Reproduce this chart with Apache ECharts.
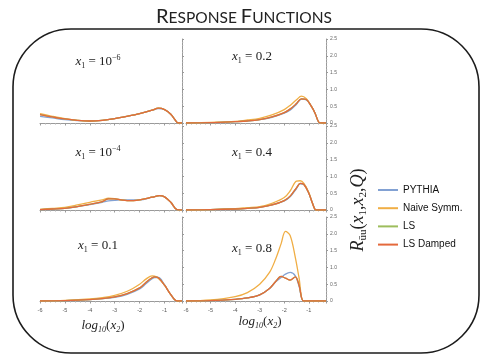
<!DOCTYPE html>
<html>
<head>
<meta charset="utf-8">
<script src="https://cdn.jsdelivr.net/npm/echarts@6/dist/echarts.min.js"></script>
<style>
html, body { margin: 0; padding: 0; background: #fff; }
#chart { width: 492px; height: 358px; }
</style>
</head>
<body>
<div id="chart"></div>
<script>
// Series names and colours
const seriesNames = ['PYTHIA', 'Naive Symm.', 'LS', 'LS Damped'];
const seriesColors = ['#82a1d3', '#f0ae45', '#9dbd5c', '#e4693c'];

// Axis ranges (log10(x2) horizontally, R vertically)
const xMin = -6, xMax = -0.3, xStep = 1;
const yMin = 0, yMax = 2.5, yStep = 0.5;

// Panel x1 = 10^-6
const x2_a     = [-6, -5.5, -5, -4.5, -4, -3.5, -3, -2.5, -2, -1.5, -1.25, -1, -0.75, -0.5, -0.45, -0.3];
const pythia_a = [0.20, 0.15, 0.10, 0.07, 0.06, 0.08, 0.13, 0.20, 0.28, 0.38, 0.43, 0.40, 0.26, 0.02, 0, 0];
const naive_a  = [0.28, 0.20, 0.13, 0.08, 0.06, 0.08, 0.13, 0.20, 0.28, 0.38, 0.44, 0.40, 0.26, 0.02, 0, 0];
const ls_a     = [0.25, 0.18, 0.12, 0.08, 0.06, 0.08, 0.13, 0.20, 0.28, 0.38, 0.44, 0.40, 0.26, 0.02, 0, 0];
const lsd_a    = [0.25, 0.18, 0.12, 0.08, 0.06, 0.08, 0.13, 0.20, 0.28, 0.38, 0.44, 0.40, 0.26, 0.02, 0, 0];

// Panel x1 = 0.2
const x2_b     = [-6, -5, -4, -3.5, -3, -2.5, -2, -1.75, -1.5, -1.3, -1.1, -0.9, -0.75, -0.6, -0.5, -0.3];
const pythia_b = [0, 0.01, 0.04, 0.06, 0.10, 0.17, 0.29, 0.39, 0.56, 0.71, 0.69, 0.50, 0.30, 0.03, 0, 0];
const naive_b  = [0, 0.02, 0.05, 0.09, 0.14, 0.24, 0.40, 0.53, 0.69, 0.80, 0.72, 0.50, 0.30, 0.03, 0, 0];
const ls_b     = [0, 0.01, 0.04, 0.06, 0.10, 0.18, 0.31, 0.42, 0.58, 0.72, 0.70, 0.50, 0.30, 0.03, 0, 0];
const lsd_b    = [0, 0.01, 0.04, 0.06, 0.10, 0.18, 0.31, 0.42, 0.58, 0.72, 0.70, 0.50, 0.30, 0.03, 0, 0];

// Panel x1 = 10^-4
const x2_c     = [-6, -5.5, -5, -4.5, -4, -3.5, -3.25, -3, -2.75, -2.5, -2.25, -2, -1.5, -1.2, -1, -0.75, -0.5, -0.3];
const pythia_c = [0.01, 0.03, 0.05, 0.10, 0.16, 0.23, 0.27, 0.29, 0.30, 0.30, 0.30, 0.30, 0.38, 0.43, 0.39, 0.23, 0.01, 0];
const naive_c  = [0.02, 0.05, 0.08, 0.15, 0.23, 0.30, 0.35, 0.34, 0.30, 0.28, 0.28, 0.30, 0.38, 0.43, 0.39, 0.23, 0.01, 0];
const ls_c     = [0.01, 0.03, 0.05, 0.10, 0.17, 0.25, 0.33, 0.33, 0.30, 0.28, 0.28, 0.30, 0.38, 0.43, 0.39, 0.23, 0.01, 0];
const lsd_c    = [0.01, 0.03, 0.05, 0.10, 0.17, 0.25, 0.33, 0.33, 0.30, 0.28, 0.28, 0.30, 0.38, 0.43, 0.39, 0.23, 0.01, 0];

// Panel x1 = 0.4
const x2_d     = [-6, -5, -4, -3.5, -3, -2.5, -2, -1.75, -1.5, -1.35, -1.2, -1, -0.85, -0.71, -0.6, -0.3];
const pythia_d = [0, 0.01, 0.03, 0.05, 0.08, 0.15, 0.27, 0.40, 0.64, 0.78, 0.76, 0.50, 0.20, 0, 0, 0];
const naive_d  = [0, 0.01, 0.04, 0.07, 0.10, 0.20, 0.37, 0.58, 0.86, 0.87, 0.79, 0.52, 0.20, 0, 0, 0];
const ls_d     = [0, 0.01, 0.03, 0.05, 0.08, 0.15, 0.28, 0.42, 0.66, 0.79, 0.76, 0.50, 0.20, 0, 0, 0];
const lsd_d    = [0, 0.01, 0.03, 0.05, 0.08, 0.15, 0.28, 0.42, 0.66, 0.79, 0.76, 0.50, 0.20, 0, 0, 0];

// Panel x1 = 0.1
const x2_e     = [-6, -5, -4, -3.5, -3, -2.5, -2, -1.75, -1.5, -1.4, -1.25, -1, -0.75, -0.5, -0.3];
const pythia_e = [0, 0.01, 0.04, 0.07, 0.11, 0.20, 0.36, 0.51, 0.66, 0.70, 0.70, 0.48, 0.19, 0, 0];
const naive_e  = [0, 0.02, 0.06, 0.10, 0.17, 0.29, 0.50, 0.65, 0.75, 0.74, 0.68, 0.47, 0.19, 0, 0];
const ls_e     = [0, 0.01, 0.04, 0.07, 0.12, 0.22, 0.39, 0.55, 0.69, 0.72, 0.69, 0.47, 0.19, 0, 0];
const lsd_e    = [0, 0.01, 0.04, 0.07, 0.12, 0.22, 0.39, 0.55, 0.69, 0.72, 0.69, 0.47, 0.19, 0, 0];

// Panel x1 = 0.8
const x2_f     = [-6, -5, -4, -3.5, -3, -2.6, -2.35, -2.13, -1.95, -1.76, -1.55, -1.4, -1.22, -1, -0.3];
const pythia_f = [0, 0.01, 0.05, 0.09, 0.18, 0.37, 0.57, 0.70, 0.80, 0.85, 0.75, 0.45, 0, 0, 0];
const naive_f  = [0, 0.03, 0.13, 0.25, 0.50, 0.85, 1.25, 1.70, 2.07, 1.95, 1.30, 0.70, 0, 0, 0];
const ls_f     = [0, 0.01, 0.05, 0.09, 0.18, 0.37, 0.58, 0.73, 0.68, 0.62, 0.72, 0.48, 0, 0, 0];
const lsd_f    = [0, 0.01, 0.05, 0.09, 0.18, 0.37, 0.58, 0.73, 0.68, 0.62, 0.72, 0.48, 0, 0, 0];

// Panel captions (value after "x1 = ", with optional exponent)
const panelCaptions = [
  { base: '10', sup: '−6' }, { base: '0.2', sup: '' },
  { base: '10', sup: '−4' }, { base: '0.4', sup: '' },
  { base: '0.1', sup: '' },  { base: '0.8', sup: '' }
];

const panels = [
  { x: x2_a, vals: [pythia_a, naive_a, ls_a, lsd_a] },
  { x: x2_b, vals: [pythia_b, naive_b, ls_b, lsd_b] },
  { x: x2_c, vals: [pythia_c, naive_c, ls_c, lsd_c] },
  { x: x2_d, vals: [pythia_d, naive_d, ls_d, lsd_d] },
  { x: x2_e, vals: [pythia_e, naive_e, ls_e, lsd_e] },
  { x: x2_f, vals: [pythia_f, naive_f, ls_f, lsd_f] }
];

// Layout of the 3x2 panel grid
const colBox = [{ left: 40, width: 142 }, { left: 186, width: 140 }];
const rowBox = [{ top: 39, height: 84 }, { top: 126, height: 84 }, { top: 217, height: 84 }];
const captionPos = [[98, 62], [252, 57], [98, 153], [252, 153], [98, 246], [252, 249]];

const grids = [], xAxes = [], yAxes = [], series = [], graphics = [];
const serif = 'Liberation Serif';

panels.forEach((p, i) => {
  const col = i % 2, row = Math.floor(i / 2);
  grids.push({
    left: colBox[col].left, width: colBox[col].width,
    top: rowBox[row].top, height: rowBox[row].height,
    containLabel: false
  });
  xAxes.push({
    gridIndex: i, type: 'value', min: xMin, max: xMax, interval: xStep,
    axisLine: { onZero: false, lineStyle: { color: '#9a9a9a', width: 1 } },
    axisTick: { show: true, length: 2.5, lineStyle: { color: '#9a9a9a' } },
    minorTick: { show: true, splitNumber: 5, length: 1.5, lineStyle: { color: '#b0b0b0' } },
    axisLabel: {
      show: row === 2, fontSize: 5.5, color: '#555', margin: 6,
      formatter: v => (v > -0.6 ? '' : v.toFixed(0))
    },
    splitLine: { show: false }
  });
  yAxes.push({
    gridIndex: i, type: 'value', min: yMin, max: yMax, interval: yStep, position: 'right',
    axisLine: { show: true, lineStyle: { color: '#9a9a9a', width: 1 } },
    axisTick: { show: true, length: 2, lineStyle: { color: '#9a9a9a' } },
    minorTick: { show: true, splitNumber: 5, length: 1.2, lineStyle: { color: '#b0b0b0' } },
    axisLabel: {
      show: col === 1, fontSize: 5, color: '#666', margin: 4,
      formatter: v => (v === 0 ? '0' : v.toFixed(1))
    },
    splitLine: { show: false }
  });
  p.vals.forEach((vals, k) => {
    series.push({
      name: seriesNames[k], type: 'line', xAxisIndex: i, yAxisIndex: i,
      data: p.x.map((xv, j) => [xv, vals[j]]),
      smooth: 0.35, symbol: 'none', silent: true,
      lineStyle: { color: seriesColors[k], width: 1.3 },
      itemStyle: { color: seriesColors[k] },
      z: 2 + k
    });
  });
  const c = panelCaptions[i];
  graphics.push({
    type: 'text', x: captionPos[i][0], y: captionPos[i][1],
    style: {
      text: '{v|x}{s|1}{t| = ' + c.base + '}' + (c.sup ? '{p|' + c.sup + '}' : ''),
      align: 'center', verticalAlign: 'middle',
      rich: {
        v: { fontFamily: serif, fontStyle: 'italic', fontSize: 13, lineHeight: 16, verticalAlign: 'middle', fill: '#222' },
        s: { fontFamily: serif, fontSize: 8, lineHeight: 16, verticalAlign: 'bottom', fill: '#222' },
        t: { fontFamily: serif, fontSize: 13, lineHeight: 16, verticalAlign: 'middle', fill: '#222' },
        p: { fontFamily: serif, fontSize: 8, lineHeight: 16, verticalAlign: 'top', fill: '#222' }
      }
    }
  });
});

// Horizontal axis titles under the bottom row
[[103, 326], [260, 322]].forEach(pos => {
  graphics.push({
    type: 'text', x: pos[0], y: pos[1],
    style: {
      text: '{v|log}{s|10}{n|(}{v|x}{s|2}{n|)}',
      align: 'center', verticalAlign: 'middle',
      rich: {
        v: { fontFamily: serif, fontStyle: 'italic', fontSize: 13, lineHeight: 16, verticalAlign: 'middle', fill: '#222' },
        n: { fontFamily: serif, fontSize: 13, lineHeight: 16, verticalAlign: 'middle', fill: '#222' },
        s: { fontFamily: serif, fontStyle: 'italic', fontSize: 8, lineHeight: 16, verticalAlign: 'bottom', fill: '#222' }
      }
    }
  });
});

// Vertical axis title
graphics.push({
  type: 'text', x: 358, y: 210, rotation: Math.PI / 2,
  style: {
    text: '{v|R}{s|ūu}{n|(}{v|x}{s|1}{n|,}{v|x}{s|2}{n|,}{v|Q}{n|)}',
    align: 'center', verticalAlign: 'middle',
    rich: {
      v: { fontFamily: serif, fontStyle: 'italic', fontSize: 18, lineHeight: 22, verticalAlign: 'middle', fill: '#222' },
      n: { fontFamily: serif, fontSize: 18, lineHeight: 22, verticalAlign: 'middle', fill: '#222' },
      s: { fontFamily: serif, fontSize: 11, lineHeight: 22, verticalAlign: 'bottom', fill: '#222' }
    }
  }
});

// Title in small capitals
graphics.push({
  type: 'text', x: 244, y: 16,
  style: {
    text: '{b|R}{s|ESPONSE }{b|F}{s|UNCTIONS}',
    align: 'center', verticalAlign: 'middle',
    rich: {
      b: { fontFamily: 'Lato', fontSize: 20, lineHeight: 22, verticalAlign: 'bottom', fill: '#222' },
      s: { fontFamily: 'Lato', fontSize: 15.5, lineHeight: 22, verticalAlign: 'bottom', fill: '#222', padding: [0, 0, 1, 0] }
    }
  }
});

// Rounded frame
graphics.push({
  type: 'rect', shape: { x: 13, y: 29, width: 466, height: 324, r: 58 },
  style: { fill: 'none', stroke: '#1c1c1c', lineWidth: 1.6 }, z: -1
});

const chart = echarts.init(document.getElementById('chart'), null, { renderer: 'canvas' });
chart.setOption({
  animation: false,
  backgroundColor: '#fff',
  grid: grids,
  xAxis: xAxes,
  yAxis: yAxes,
  legend: {
    data: seriesNames, orient: 'vertical', left: 373, top: 179,
    icon: 'rect', itemWidth: 20, itemHeight: 2, itemGap: 6.2,
    textStyle: { fontFamily: 'Liberation Sans', fontSize: 10, lineHeight: 12, color: '#111' },
    selectedMode: false
  },
  graphic: graphics,
  series: series
});
</script>
</body>
</html>
